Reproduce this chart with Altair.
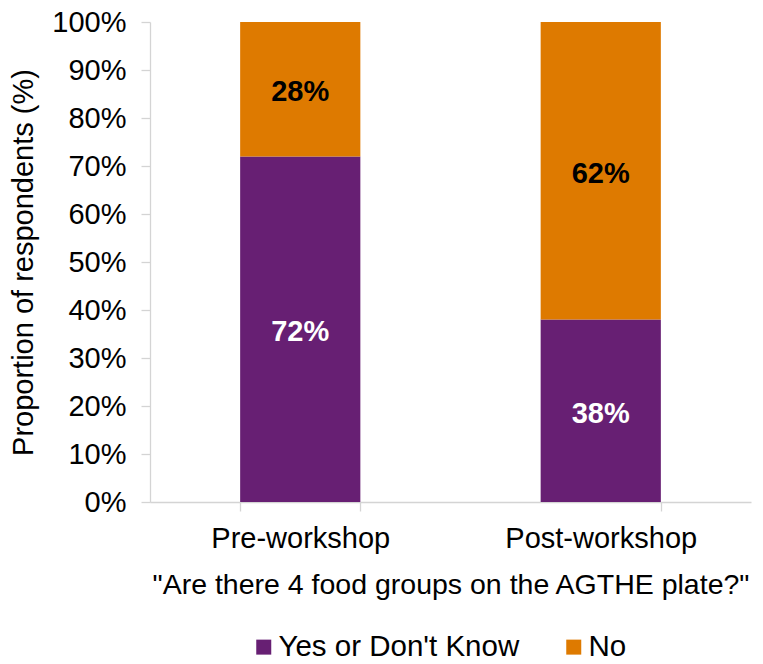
import altair as alt
import pandas as pd

phases = ["Pre-workshop", "Post-workshop"]
answers = ["Yes or Don't Know", "No"]
yes_values = [72, 38]
no_values = [28, 62]
colors = ["#671F73", "#DE7A00"]

rows = []
for i, p in enumerate(phases):
    rows.append({"phase": p, "answer": answers[0], "value": yes_values[i], "ord": 0})
    rows.append({"phase": p, "answer": answers[1], "value": no_values[i], "ord": 1})
df = pd.DataFrame(rows)

FONT = "Liberation Sans"
FS = 29
AXC = "#D4D4D4"

base = alt.Chart(df).transform_stack(
    stack="value", groupby=["phase"], as_=["v0", "v1"], sort=[{"field": "ord", "order": "ascending"}]
).transform_calculate(mid="(datum.v0 + datum.v1) / 2")

xenc = alt.X(
    "phase:N",
    sort=phases,
    scale=alt.Scale(paddingInner=0.6, paddingOuter=0.3),
    axis=alt.Axis(
        title='"Are there 4 food groups on the AGTHE plate?"',
        labelAngle=0,
        labelLimit=0,
        tickBand="extent",
        domainColor=AXC,
        tickColor=AXC,
        domainWidth=1.3,
        tickWidth=1.3,
        tickSize=9,
        labelPadding=13,
        titlePadding=17,
        labelFontSize=FS,
        titleFontSize=28.5,
        labelFont=FONT,
        titleFont=FONT,
        titleFontWeight="normal",
        labelColor="black",
        titleColor="black",
    ),
)

bars = base.mark_bar(stroke=None).encode(
    x=xenc,
    y=alt.Y(
        "v0:Q",
        scale=alt.Scale(domain=[0, 100]),
        axis=alt.Axis(
            title="Proportion of respondents (%)",
            values=list(range(0, 101, 10)),
            labelExpr="datum.value + '%'",
            grid=False,
            domainColor=AXC,
            tickColor=AXC,
            domainWidth=1.3,
            tickWidth=1.3,
            tickSize=9,
            labelPadding=15,
            titlePadding=13,
            labelFontSize=FS,
            titleFontSize=FS,
            labelFont=FONT,
            titleFont=FONT,
            titleFontWeight="normal",
            labelColor="black",
            titleColor="black",
        ),
    ),
    y2="v1:Q",
    color=alt.Color(
        "answer:N",
        scale=alt.Scale(domain=answers, range=colors),
        legend=alt.Legend(
            title=None,
            orient="none",
            direction="horizontal",
            legendX=99,
            legendY=610,
            symbolType="square",
            symbolSize=225,
            symbolStrokeWidth=0,
            labelFontSize=29.5,
            labelFont=FONT,
            labelColor="black",
            labelLimit=0,
            labelOffset=0,
            columnPadding=39,
            padding=0,
        ),
    ),
)

labels = base.mark_text(font=FONT, fontSize=FS, fontWeight="bold", baseline="middle", dy=3).encode(
    x=alt.X("phase:N", sort=phases),
    y=alt.Y("mid:Q"),
    text=alt.Text("label:N"),
    color=alt.condition("datum.answer == 'No'", alt.value("black"), alt.value("white")),
).transform_calculate(label="datum.value + '%'")

chart = (
    alt.layer(bars, labels)
    .properties(
        width=601,
        height=480,
        autosize=alt.AutoSizeParams(type="none"),
        padding={"left": 150, "top": 22, "right": 12, "bottom": 162},
        background="white",
    )
    .configure_view(stroke=None)
)

chart.save("out.html", embed_options={"renderer": "svg", "actions": False})
